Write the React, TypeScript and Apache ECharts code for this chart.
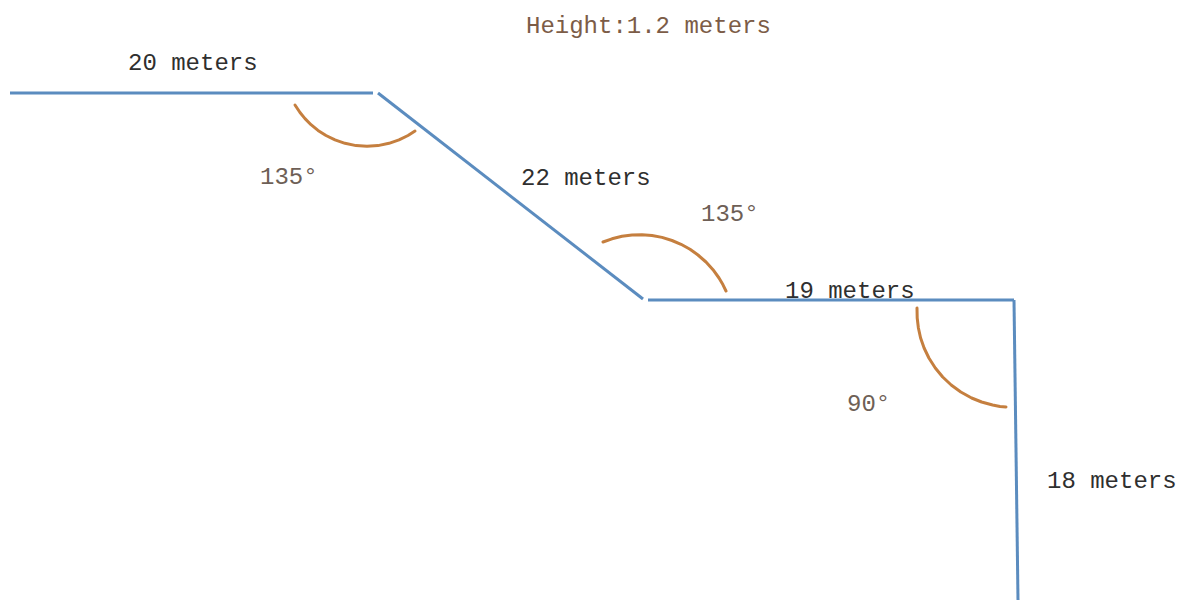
import React, { useEffect, useRef } from "react";
import * as echarts from "echarts";

const wallOne = [[10, 93], [373, 93]];
const wallTwo = [[378, 93], [643, 299]];
const wallThree = [[648, 300], [1014, 300]];
const wallFour = [[1014, 300], [1018, 600]];
const walls = [wallOne, wallTwo, wallThree, wallFour];

const arcOne = [[295, 105], [300, 112.5], [305, 118.6], [311, 124.7], [318, 130.4], [326, 135.5], [335, 139.9], [345, 143.3], [356, 145.6], [367, 146.3], [378, 145.6], [389, 143.3], [399, 139.9], [408, 135.5], [415, 131]];
const arcTwo = [[603, 242], [612, 238.8], [622, 236.3], [632, 235], [642, 234.7], [652, 235.5], [662, 237.4], [672, 240.5], [681, 244.3], [690, 249.3], [698, 255], [706, 262], [713, 269.7], [719, 278], [723, 284.8], [726, 291]];
const arcThree = [[917, 308], [917.2, 318], [918.4, 328], [920.6, 338], [924.1, 348], [928.9, 358], [935.3, 368], [942.7, 377], [951.2, 385], [960.8, 392], [971.6, 398], [981.6, 402], [992.6, 405], [1000, 406.5], [1006, 407]];
const arcs = [arcOne, arcTwo, arcThree];

const lengthTexts = ["20 meters", "22 meters", "19 meters", "18 meters"];
const lengthAnchors = [[128, 63], [521, 178], [785, 291], [1047, 481]];
const angleTexts = ["135°", "135°", "90°"];
const angleAnchors = [[260, 177], [701, 214], [847, 404]];
const titleText = ["Height:1.2 meters"];
const titleAnchor = [[526, 26]];

const MONO = '"Liberation Mono", "DejaVu Sans Mono", monospace';

function textSeries(texts: string[], anchors: number[][], color: string) {
  return {
    type: "scatter",
    symbolSize: 0,
    silent: true,
    itemStyle: { opacity: 1 },
    data: anchors.map((p, i) => ({ value: p, name: texts[i] })),
    label: {
      show: true,
      position: "inside",
      align: "left",
      verticalAlign: "middle",
      formatter: (d: any) => d.name,
      color,
      opacity: 1,
      fontFamily: MONO,
      fontSize: 24,
    },
  };
}

export default function App() {
  const ref = useRef<HTMLDivElement>(null);
  useEffect(() => {
    const chart = echarts.init(ref.current!, null, { renderer: "svg" });
    chart.setOption({
      animation: false,
      backgroundColor: "#ffffff",
      grid: { left: 0, right: 0, top: 0, bottom: 0 },
      xAxis: { type: "value", min: 0, max: 1187, show: false },
      yAxis: { type: "value", min: 0, max: 600, inverse: true, show: false },
      series: [
        ...walls.map((w) => ({
          type: "line",
          data: w,
          symbol: "none",
          silent: true,
          lineStyle: { color: "#5b8cbf", width: 3 },
        })),
        ...arcs.map((a) => ({
          type: "line",
          data: a,
          symbol: "none",
          silent: true,
          lineStyle: { color: "#c57f3f", width: 3, cap: "round", join: "round" },
        })),
        textSeries(lengthTexts, lengthAnchors, "#2f2f2f"),
        textSeries(angleTexts, angleAnchors, "#6e5f56"),
        textSeries(titleText, titleAnchor, "#7c5c47"),
      ],
    });
    return () => chart.dispose();
  }, []);
  return (
    <div
      ref={ref}
      style={{ position: "fixed", left: 0, top: 0, width: 1187, height: 600 }}
    />
  );
}
